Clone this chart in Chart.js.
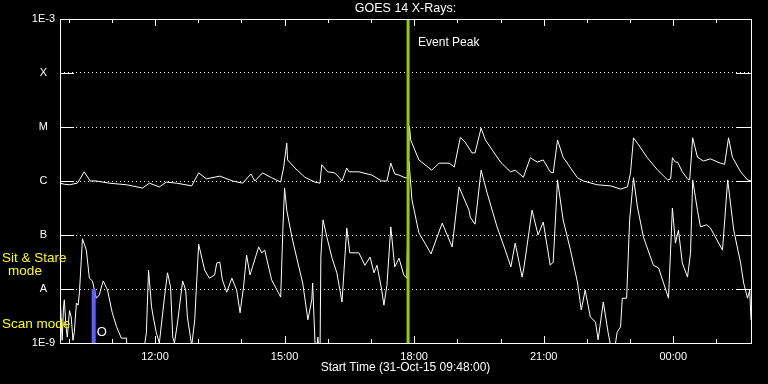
<!DOCTYPE html>
<html>
<head>
<meta charset="utf-8">
<script src="https://cdn.jsdelivr.net/npm/chart.js@4"></script>
<style>
  html, body { margin: 0; padding: 0; background: #000; }
</style>
</head>
<body>
<canvas id="goesChart" width="768" height="384"></canvas>
<script>
// hours of day (24+ = next day), log10 of flux in W/m^2
const longTimes = [9.8, 9.9, 10.02, 10.2, 10.25, 10.36, 10.5, 10.64, 10.94, 11.34, 11.71, 11.87, 12.1, 12.26, 12.5, 12.85,
  13.01, 13.19, 13.5, 13.8, 14.03, 14.22, 14.31, 14.49, 14.7, 14.91, 14.98, 15.05, 15.07, 15.24, 15.47, 15.7, 15.82, 15.86,
  16.0, 16.16, 16.26, 16.33, 16.44, 16.49, 16.72, 17.02, 17.25, 17.37, 17.46, 17.55, 17.65, 17.79, 17.86, 17.89, 17.92,
  18.11, 18.41, 18.58, 18.81, 18.93, 19.07, 19.18, 19.34, 19.41, 19.55, 19.65, 20.0, 20.23, 20.34, 20.53, 20.69, 20.85,
  20.99, 21.15, 21.22, 21.32, 21.45, 21.78, 21.92, 22.24, 22.55, 22.78, 22.94, 23.01, 23.08, 23.17, 23.4, 23.64, 23.87,
  23.94, 23.98, 24.05, 24.1, 24.21, 24.33, 24.38, 24.45, 24.56, 24.7, 24.86, 25.09, 25.19, 25.28, 25.37, 25.56, 25.72, 25.8];
const longFlux = [-6.04, -6.06, -6.07, -6.04, -5.98, -5.83, -6.0, -6.0, -6.04, -6.07, -6.13, -6.04, -6.11, -6.02, -6.04, -6.09,
  -5.85, -5.96, -5.91, -6.0, -6.04, -5.87, -6.0, -5.85, -5.94, -6.02, -5.74, -5.3, -5.61, -5.76, -5.93, -6.02, -6.04, -5.7,
  -5.83, -5.85, -5.93, -6.0, -5.76, -5.83, -5.83, -5.89, -6.0, -6.0, -5.67, -5.87, -5.89, -5.94, -5.94, -4.98, -5.24,
  -5.61, -5.8, -5.67, -5.67, -5.74, -5.19, -5.28, -5.48, -5.48, -5.02, -5.24, -5.65, -5.83, -5.8, -5.93, -5.57, -5.65,
  -5.61, -5.83, -5.85, -5.24, -5.56, -5.94, -6.0, -6.07, -6.09, -6.15, -6.11, -5.85, -5.2, -5.3, -5.57, -5.8, -5.98,
  -5.96, -5.57, -5.65, -5.65, -5.83, -5.96, -5.98, -5.2, -5.56, -5.63, -5.59, -5.67, -5.69, -5.2, -5.56, -5.83, -5.98, -6.0];

const shortTimes = [9.81, 9.85, 9.88, 9.9, 9.94, 9.97, 10.02, 10.06, 10.1, 10.13, 10.18, 10.22, 10.25, 10.32, 10.41, 10.48,
  10.55, 10.64, 10.71, 10.8, 10.9, 11.01, 11.11, 11.22, 11.34, 11.36, 11.71, 11.8, 11.85, 11.92, 11.96, 12.03, 12.1, 12.22,
  12.29, 12.36, 12.41, 12.45, 12.52, 12.64, 12.71, 12.75, 12.85, 12.92, 13.01, 13.15, 13.26, 13.38, 13.43, 13.5, 13.56,
  13.66, 13.78, 13.89, 13.97, 14.05, 14.12, 14.2, 14.4, 14.47, 14.54, 14.7, 14.91, 14.96, 15.0, 15.05, 15.17, 15.31, 15.42,
  15.54, 15.63, 15.65, 15.72, 15.77, 15.82, 15.84, 15.89, 15.98, 16.1, 16.21, 16.33, 16.44, 16.51, 16.72, 16.86, 16.98,
  17.07, 17.14, 17.25, 17.3, 17.37, 17.46, 17.55, 17.65, 17.76, 17.83, 17.88, 17.95, 18.11, 18.25, 18.39, 18.65, 18.88,
  19.04, 19.27, 19.3, 19.41, 19.55, 19.69, 19.92, 20.11, 20.24, 20.34, 20.5, 20.55, 20.73, 20.87, 20.99, 21.15, 21.22,
  21.32, 21.45, 21.62, 21.78, 21.87, 21.96, 22.08, 22.2, 22.26, 22.38, 22.49, 22.61, 22.7, 22.78, 22.82, 22.92, 22.99,
  23.08, 23.17, 23.31, 23.54, 23.66, 23.89, 23.98, 24.05, 24.12, 24.21, 24.33, 24.4, 24.45, 24.56, 24.63, 24.77, 24.86,
  25.14, 25.26, 25.4, 25.56, 25.63, 25.72, 25.77, 25.8];
const shortFlux = [-8.26, -8.95, -8.35, -8.2, -8.7, -8.89, -8.4, -8.52, -8.95, -8.81, -8.26, -8.3, -8.07, -7.07, -7.28, -7.8,
  -7.85, -8.17, -8.11, -7.85, -8.02, -8.44, -8.7, -8.91, -8.91, -9.3, -9.3, -8.81, -7.65, -8.33, -8.52, -8.81, -9.0, -8.15,
  -7.7, -7.96, -8.89, -9.0, -8.63, -7.85, -8.02, -8.52, -9.05, -8.57, -7.17, -7.65, -7.8, -7.74, -7.52, -7.5, -7.83,
  -8.06, -7.8, -8.02, -8.44, -7.96, -7.37, -7.74, -7.22, -7.33, -7.28, -7.83, -8.15, -6.91, -6.13, -6.54, -7.04, -7.52, -7.89,
  -8.57, -8.2, -7.89, -9.3, -8.89, -9.3, -7.41, -6.72, -7.04, -7.43, -7.7, -8.24, -6.87, -7.33, -7.33, -7.56, -7.41,
  -7.7, -7.56, -8.02, -8.3, -7.93, -6.85, -7.59, -7.43, -7.74, -7.8, -5.63, -6.35, -6.96, -7.15, -7.35, -6.78, -7.22,
  -6.11, -6.54, -6.67, -6.8, -5.8, -6.22, -6.85, -7.28, -7.59, -7.15, -7.78, -7.56, -6.54, -7.0, -6.76, -7.56, -7.5,
  -5.98, -6.72, -7.28, -7.87, -8.39, -8.02, -8.52, -8.61, -8.94, -8.24, -8.8, -9.3, -8.8, -8.7, -8.17, -8.17, -6.72,
  -5.94, -6.48, -7.04, -7.56, -7.61, -8.17, -6.5, -7.15, -6.91, -7.52, -7.78, -7.33, -5.98, -6.54, -6.85, -6.81, -6.87,
  -7.28, -5.98, -6.91, -7.52, -7.89, -8.17, -8.02, -8.57];

const levelValues = [1e-9, 1e-8, 1e-7, 1e-6, 1e-5, 1e-4, 1e-3];
const levelLabels = ["1E-9", "A", "B", "C", "M", "X", "1E-3"];
const timeTicks = [12, 15, 18, 21, 24];
const startHour = 9.8;
const endHour = 25.8;
const eventPeak = 17.86;
const modeSwitch = 10.58;

const font = "'Liberation Sans', Arial, sans-serif";

const framePlugin = {
  id: "idlFrame",
  afterDraw(chart) {
    const ctx = chart.ctx;
    const area = chart.chartArea;
    const x = chart.scales.x;
    const y = chart.scales.y;
    ctx.save();
    ctx.strokeStyle = "#fff";
    ctx.lineWidth = 1;
    ctx.strokeRect(Math.round(area.left) + 0.5, Math.round(area.top) + 0.5,
      Math.round(area.right - area.left), Math.round(area.bottom - area.top));

    ctx.beginPath();
    levelValues.forEach(v => {
      const py = Math.round(y.getPixelForValue(v)) + 0.5;
      ctx.moveTo(area.left, py);
      ctx.lineTo(area.left + 14, py);
      ctx.moveTo(area.right - 15, py);
      ctx.lineTo(area.right, py);
    });
    for (let h = Math.ceil(startHour); h <= endHour; h++) {
      const px = Math.round(x.getPixelForValue(h)) + 0.5;
      const len = h % 3 === 0 ? 7 : 4;
      ctx.moveTo(px, area.bottom);
      ctx.lineTo(px, area.bottom - len);
      ctx.moveTo(px, area.top);
      ctx.lineTo(px, area.top + len);
    }
    ctx.stroke();

    ctx.fillStyle = "#fff";
    ctx.font = "12px " + font;
    ctx.textBaseline = "middle";
    ctx.textAlign = "left";
    ctx.fillText("Event Peak", x.getPixelForValue(eventPeak) + 10, y.getPixelForValue(Math.pow(10, -3.44)));
    ctx.font = "13px " + font;
    ctx.fillText("O", x.getPixelForValue(modeSwitch) + 3, y.getPixelForValue(Math.pow(10, -8.81)));

    ctx.fillStyle = "#ffff00";
    ctx.font = "13.5px " + font;
    ctx.fillText("Sit & Stare", 2, y.getPixelForValue(Math.pow(10, -7.44)));
    ctx.textAlign = "center";
    ctx.fillText("mode", 25, y.getPixelForValue(Math.pow(10, -7.67)));
    ctx.textAlign = "left";
    ctx.fillText("Scan mode", 2, y.getPixelForValue(Math.pow(10, -8.65)));
    ctx.restore();
  }
};

new Chart(document.getElementById("goesChart"), {
  type: "line",
  data: {
    datasets: [
      {
        label: "Event Peak",
        data: [{ x: eventPeak, y: 1e-9 }, { x: eventPeak, y: 1e-3 }],
        borderColor: "#99cc00",
        borderWidth: 3,
        pointRadius: 0
      },
      {
        label: "Mode",
        data: [{ x: modeSwitch, y: 1e-9 }, { x: modeSwitch, y: 1e-8 }],
        borderColor: "#6060ff",
        borderWidth: 4,
        pointRadius: 0
      },
      {
        label: "1-8 A",
        data: longTimes.map((t, i) => ({ x: t, y: Math.pow(10, longFlux[i]) })),
        borderColor: "#fff",
        borderWidth: 1,
        pointRadius: 0,
        tension: 0
      },
      {
        label: "0.5-4 A",
        data: shortTimes.map((t, i) => ({ x: t, y: Math.pow(10, shortFlux[i]) })),
        borderColor: "#fff",
        borderWidth: 1,
        pointRadius: 0,
        tension: 0
      }
    ]
  },
  options: {
    responsive: false,
    animation: false,
    devicePixelRatio: 1,
    layout: { padding: { left: 0, right: 17, top: 0, bottom: 0 } },
    plugins: {
      legend: { display: false },
      tooltip: { enabled: false },
      title: {
        display: true,
        text: "GOES 14 X-Rays:",
        color: "#fff",
        fullSize: false,
        font: { family: font, size: 12.5, weight: "normal", lineHeight: "14px" },
        padding: { top: 2, bottom: 3 }
      }
    },
    scales: {
      x: {
        type: "linear",
        min: startHour,
        max: endHour,
        afterBuildTicks: s => { s.ticks = timeTicks.map(v => ({ value: v })); },
        afterFit: s => { s.height = 41; },
        grid: { display: false, drawTicks: false },
        border: { display: false },
        ticks: {
          color: "#fff",
          padding: 7,
          maxRotation: 0,
          font: { family: font, size: 11 },
          callback: v => String(v % 24).padStart(2, "0") + ":00"
        },
        title: {
          display: true,
          text: "Start Time (31-Oct-15 09:48:00)",
          color: "#fff",
          font: { family: font, size: 12 },
          padding: { top: 0, bottom: 9 }
        }
      },
      y: {
        type: "logarithmic",
        min: 1e-9,
        max: 1e-3,
        afterBuildTicks: s => { s.ticks = levelValues.map(v => ({ value: v })); },
        afterFit: s => { s.width = 60; },
        grid: {
          drawTicks: false,
          color: c => (c.index === 0 || c.index === levelValues.length - 1) ? "rgba(0,0,0,0)" : "#fff"
        },
        border: { display: false, dash: [1, 3] },
        ticks: {
          color: "#fff",
          padding: 5,
          crossAlign: "center",
          font: { family: font, size: 11 },
          callback: (v, i) => levelLabels[i]
        }
      }
    }
  },
  plugins: [framePlugin]
});
</script>
</body>
</html>
